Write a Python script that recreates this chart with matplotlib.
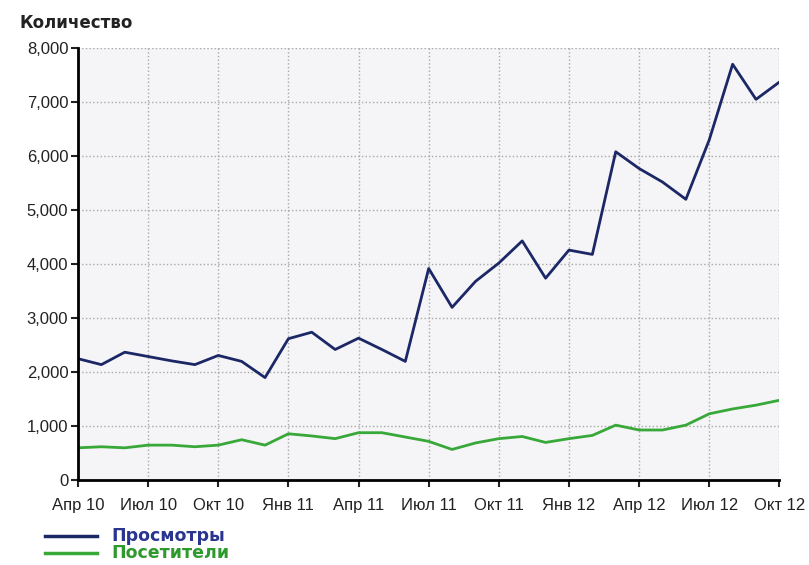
import matplotlib.pyplot as plt
from matplotlib.ticker import FuncFormatter

plt.rcParams['font.family'] = ['Liberation Sans', 'DejaVu Sans']

# monthly points, Apr 2010 .. Oct 2012
months = list(range(31))
views = [2250, 2140, 2370, 2290, 2210, 2140, 2310, 2200, 1900, 2620,
         2740, 2420, 2630, 2420, 2200, 3920, 3200, 3680, 4020, 4430,
         3740, 4260, 4180, 6080, 5770, 5520, 5200, 6300, 7700, 7050,
         7370]
visitors = [600, 620, 600, 650, 650, 620, 650, 750, 650, 860,
            820, 770, 880, 880, 800, 720, 570, 690, 770, 810,
            700, 770, 830, 1020, 930, 930, 1020, 1230, 1320, 1390,
            1480]
tick_pos = [0, 3, 6, 9, 12, 15, 18, 21, 24, 27, 30]
tick_labels = ['Апр 10', 'Июл 10', 'Окт 10', 'Янв 11', 'Апр 11', 'Июл 11',
               'Окт 11', 'Янв 12', 'Апр 12', 'Июл 12', 'Окт 12']

blue = '#1c2766'
green = '#38a838'

fig = plt.figure(figsize=(8.09, 5.65), dpi=100)
ax = fig.add_axes([0.0964, 0.150, 0.867, 0.765])
ax.set_facecolor('#f5f5f7')

ax.plot(months, views, color=blue, linewidth=2)
ax.plot(months, visitors, color=green, linewidth=2)

ax.set_xlim(0, 30)
ax.set_ylim(0, 8000)
ax.set_xticks(tick_pos)
ax.set_xticklabels(tick_labels)
ax.set_yticks(range(0, 8001, 1000))
ax.yaxis.set_major_formatter(FuncFormatter(lambda v, p: f'{int(v):,}'))
ax.tick_params(labelsize=12, colors='#222222', length=5, width=1.5)
ax.tick_params(axis='x', pad=8)
ax.tick_params(axis='y', pad=2)

ax.grid(True, color='#a8a8a8', linestyle=':', linewidth=1)
ax.spines['top'].set_visible(False)
ax.spines['right'].set_visible(False)
ax.spines['left'].set_linewidth(2)
ax.spines['bottom'].set_linewidth(2)

fig.text(0.024, 0.960, 'Количество', fontsize=12, fontweight='bold',
         family='DejaVu Sans', va='center', ha='left', color='#222222')

# legend below the axes
fig.add_artist(plt.Line2D([0.056, 0.120], [0.051, 0.051], color=blue, linewidth=2.5))
fig.add_artist(plt.Line2D([0.056, 0.120], [0.021, 0.021], color=green, linewidth=2.5))
fig.text(0.138, 0.051, 'Просмотры', fontsize=12.5, fontweight='bold',
         family='DejaVu Sans', color='#2a3590', va='center')
fig.text(0.138, 0.021, 'Посетители', fontsize=12.5, fontweight='bold',
         family='DejaVu Sans', color='#2e9a2e', va='center')

fig.savefig('out.png', dpi=100)
